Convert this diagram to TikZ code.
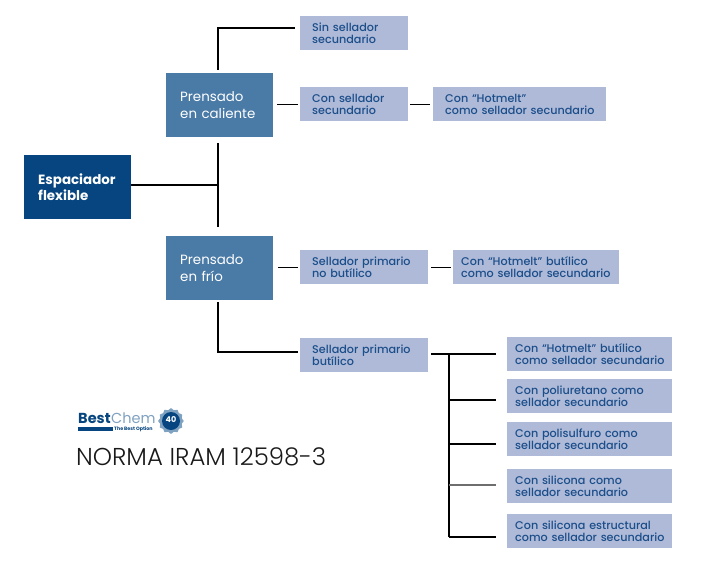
\documentclass[tikz,border=0pt]{standalone}
\usepackage{fontspec}
\setmainfont{Poppins}
\newfontfamily\lightfont{Poppins Light}
\newfontfamily\medfont{Poppins Medium}
\definecolor{dk}{HTML}{06457F}
\definecolor{md}{HTML}{4A7AA6}
\definecolor{lt}{HTML}{AEBAD8}
\definecolor{tx}{HTML}{1C4E8A}
\definecolor{gy}{HTML}{6E6E6E}
\tikzset{
  x=1pt,y=-1pt,
  leaf/.style 2 args={anchor=north west,inner sep=0pt,align=left,font=\fontsize{11.2}{11}\medfont,text=tx,fill=lt,
    minimum height=34pt,text width=#1pt,execute at begin node={\lineskiplimit=-20pt\relax\leftskip=#2pt\relax\vspace*{1pt}}},
  parent/.style={anchor=north west,inner sep=0pt,inner xsep=14pt,text width=79pt,minimum height=64pt,align=left,font=\fontsize{13.4}{16.5}\selectfont,text=white,fill=md},
  root/.style={parent,fill=dk,font=\fontsize{13.4}{16.5}\selectfont\bfseries},
  link/.style={draw=black,line width=1.3pt},
  tlink/.style={draw=black,line width=2pt},
}
\begin{document}
\begin{tikzpicture}
\useasboundingbox[fill=white] (0,0) rectangle (710,563);
% boxes
\node[root]   (esp) at (24,155) {Espaciador\\flexible};
\node[parent] (cal) at (166,73) {Prensado\\en caliente};
\node[parent] (fri) at (166,236) {Prensado\\en frío};
\node[leaf={108}{12}] (sin) at (300,16) {Sin sellador\\secundario};
\node[leaf={108}{12}] (con) at (300,87) {Con sellador\\secundario};
\node[leaf={173}{12}] (hot) at (433,87) {Con “Hotmelt”\\como sellador secundario};
\node[leaf={128}{12}] (nob) at (300,250) {Sellador primario\\no butílico};
\node[leaf={166}{8}]  (hob) at (453,250) {Con “Hotmelt” butílico\\como sellador secundario};
\node[leaf={128}{12}] (but) at (300,338) {Sellador primario\\butílico};
\node[leaf={165}{8}]  (r1) at (507,337) {Con “Hotmelt” butílico\\como sellador secundario};
\node[leaf={165}{8}]  (r2) at (507,379) {Con poliuretano como\\sellador secundario};
\node[leaf={165}{8}]  (r3) at (507,422) {Con polisulfuro como\\sellador secundario};
\node[leaf={165}{8}]  (r4) at (507,469) {Con silicona como\\sellador secundario};
\node[leaf={165}{8}]  (r5) at (507,514) {Con silicona estructural\\como sellador secundario};
% junctions
\coordinate (j) at (218,185);
\coordinate (jt) at (218,143);
\coordinate (jb) at (218,227);
\coordinate (t) at (449,354);
% connectors
\draw[link,shorten >=5pt] (218,70) |- (sin.west |- 0,28);
\draw[link] (jt) -- (jb);
\draw[link] (esp.east |- j) -- (j);
\draw[link,shorten >=2pt] (218,302) |- (but.west |- 0,352);
\draw[link,shorten <=4pt,shorten >=2pt] (cal.east |- con.west) -- (con.west);
\draw[link,shorten <=2pt,shorten >=3pt] (con.east) -- (hot.west);
\draw[link,shorten <=5pt,shorten >=2pt] (fri.east |- nob.west) -- (nob.west);
\draw[link,shorten <=3pt,shorten >=2pt] (nob.east) -- (hob.west);
\draw[tlink,shorten <=3pt,shorten >=11pt] (but.east |- t) -- (r1.west |- t);
\draw[tlink] (t) -- (449,537);
\draw[link,shorten >=11pt] (449,400) -- (r2.west |- 0,400);
\draw[link,shorten >=11pt] (449,444) -- (r3.west |- 0,444);
\draw[link,draw=gy,shorten >=11pt] (449,485) -- (r4.west |- 0,485);
\draw[tlink,shorten >=11pt] (449,537) -- (r5.west |- 0,537);
% logo
\node[anchor=west,inner sep=0pt,font=\fontsize{14.5}{14.5}\selectfont\bfseries,text=dk] (lg1) at (78,418) {Best};
\node[anchor=west,inner sep=0pt,font=\fontsize{14.5}{14.5}\selectfont,text=md!70] (lg2) at (lg1.east) {Chem};
\fill[dk] (78,427) rectangle (113,431);
\node[anchor=west,inner sep=0pt,font=\fontsize{4.8}{5}\selectfont\bfseries,text=dk] (lg3) at (114,429.5) {The Best Option};
\fill[md!70] plot[samples=25,domain=0:360,smooth cycle] ({171+(12+0.9*cos(12*\x))*cos(\x)},{421+(12+0.9*cos(12*\x))*sin(\x)});
\fill[dk] (171,421) circle (9);
\node[inner sep=0pt,font=\fontsize{8}{8}\selectfont\bfseries,text=white] (lg4) at (171,420) {40};
\node[anchor=west,inner sep=0pt,font=\fontsize{24.4}{25}\lightfont,text=black!90] (norma) at (76,457) {NORMA IRAM 12598-3};
\end{tikzpicture}
\end{document}
